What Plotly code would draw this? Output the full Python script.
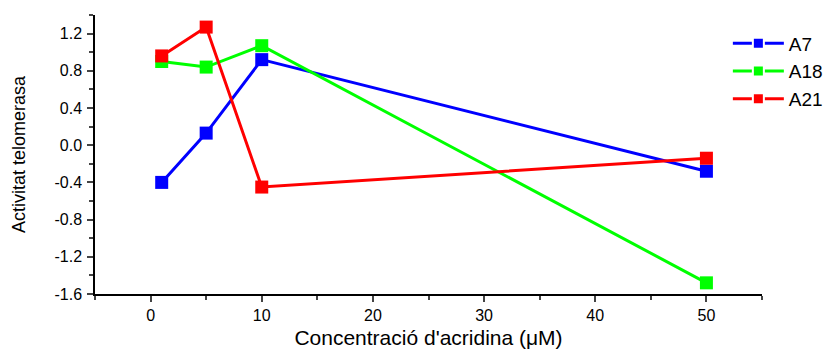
import plotly.graph_objects as go

conc = [1, 5, 10, 50]
a7 = [-0.40, 0.13, 0.92, -0.28]
a18 = [0.90, 0.84, 1.07, -1.48]
a21 = [0.96, 1.27, -0.45, -0.14]

series = [("A7", a7, "#0000ff"), ("A18", a18, "#00ff00"), ("A21", a21, "#ff0000")]

fig = go.Figure()
for name, vals, col in series:
    fig.add_trace(go.Scatter(x=conc, y=vals, name=name, mode="lines+markers",
                             showlegend=False,
                             line=dict(color=col, width=3),
                             marker=dict(symbol="square", size=13, color=col)))
# legend entries (smaller markers, as in the reference legend)
for name, vals, col in series:
    fig.add_trace(go.Scatter(x=[None], y=[None], name=name, mode="lines+markers",
                             line=dict(color=col, width=3),
                             marker=dict(symbol="square", size=11, color=col,
                                         line=dict(color="white", width=2))))

FONT = "Liberation Sans, Arial, sans-serif"
tickfont = dict(family=FONT, size=16, color="black")
fig.update_layout(
    width=829, height=349,
    margin=dict(l=95, r=67, t=15, b=55, autoexpand=False),
    plot_bgcolor="white", paper_bgcolor="white",
    font=dict(family=FONT, color="black"),
    legend=dict(xref="container", yref="container", x=0.878, y=0.93,
                xanchor="left", yanchor="top", itemwidth=51,
                font=dict(size=19), bgcolor="rgba(0,0,0,0)", tracegroupgap=0),
    xaxis=dict(range=[-5, 55], tickvals=[0, 10, 20, 30, 40, 50], ticks="outside",
               ticklen=6, tickwidth=1.5, showline=True, linecolor="black", linewidth=1.5,
               showgrid=False, zeroline=False, tickfont=tickfont, automargin=False,
               minor=dict(tickvals=[-5, 5, 15, 25, 35, 45, 55], ticks="outside", ticklen=4, tickwidth=1.5),
               title=dict(text="Concentració d'acridina (μM)", font=dict(size=21), standoff=7)),
    yaxis=dict(range=[-1.6, 1.4], tickvals=[-1.6, -1.2, -0.8, -0.4, 0.0, 0.4, 0.8, 1.2],
               ticktext=["-1.6", "-1.2", "-0.8", "-0.4", "0.0", "0.4", "0.8", "1.2"],
               ticks="outside", ticklen=6, tickwidth=1.5, showline=True, linecolor="black",
               linewidth=1.5, showgrid=False, zeroline=False, tickfont=tickfont, automargin=False,
               ticklabelstandoff=2,
               minor=dict(tickvals=[-1.4, -1.0, -0.6, -0.2, 0.2, 0.6, 1.0, 1.4], ticks="outside", ticklen=4, tickwidth=1.5),
               title=dict(text="Activitat telomerasa", font=dict(size=18), standoff=24)),
)
fig.write_html("out.html")
